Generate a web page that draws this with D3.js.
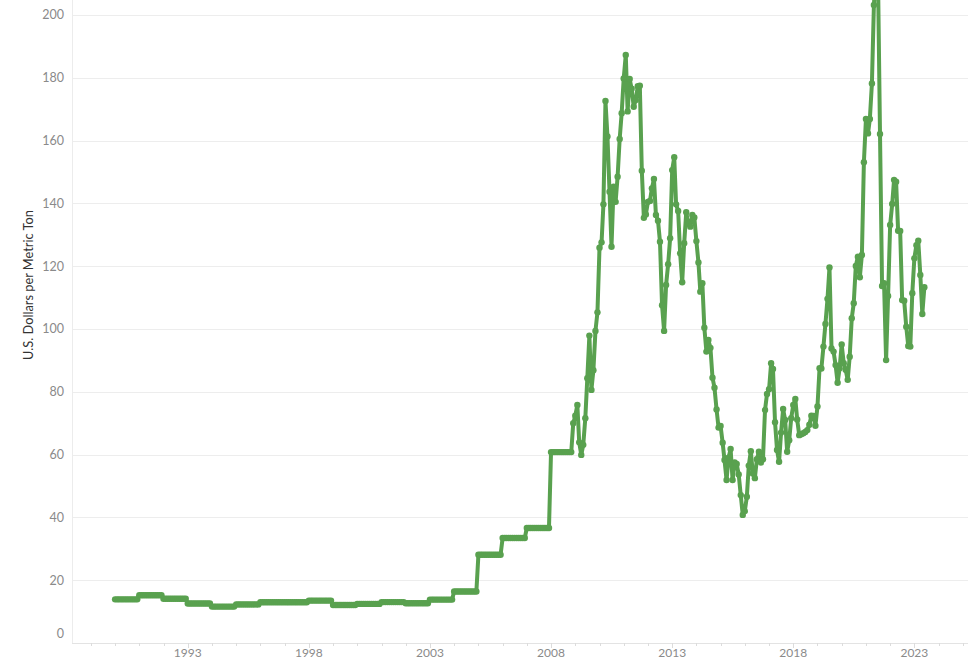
<!DOCTYPE html>
<html>
<head>
<meta charset="utf-8">
<script src="https://cdn.jsdelivr.net/npm/d3@7"></script>
<style>
  html, body { margin: 0; padding: 0; background: #fff; }
  svg { display: block; }
  text { font-family: Lato, "Open Sans", sans-serif; }
</style>
</head>
<body>
<svg id="chart" width="980" height="660"></svg>
<script>
// ---- DATA ----
// Annual contract prices, repeated for each month of the year (US$ per metric ton)
const annualYears  = [1990,1991,1992,1993,1994,1995,1996,1997,1998,1999,2000,2001,2002,2003,2004,2005,2006,2007,2008];
const annualPrices = [13.9,15.2,14.1,12.6,11.6,12.3,13.0,13.0,13.5,12.1,12.45,13.03,12.68,13.82,16.39,28.11,33.45,36.63,60.80];

// Monthly spot prices starting December 2008
const monthlyStart = [2008, 12];
const monthlyPrices = [
  70.0,                                                              // 2008-12
  72.4, 75.8, 63.9, 59.9, 63.1, 71.6, 84.3, 97.9, 80.6, 86.9, 99.4, 105.3,   // 2009
  125.9,127.6,139.7,172.6,161.3,143.7,126.2,145.3,140.5,148.5,160.5,168.7,   // 2010
  179.8,187.3,169.3,179.6,176.5,170.8,172.9,177.3,177.5,150.4,135.4,136.5,   // 2011
  140.5,140.8,144.8,147.8,136.3,134.5,127.8,107.6, 99.4,114.0,120.6,128.9,   // 2012
  150.6,154.7,139.7,137.6,124.1,114.9,127.3,137.2,133.5,132.6,136.3,135.5,   // 2013
  128.0,121.2,111.9,114.6,100.4, 92.8, 96.5, 94.0, 84.5, 81.3, 74.4, 68.6,   // 2014
  69.1, 63.8, 58.3, 51.9, 59.0, 61.8, 51.9, 57.5, 57.0, 53.7, 47.1, 40.8,    // 2015
  42.0, 46.6, 56.5, 61.1, 54.0, 52.5, 58.5, 60.9, 57.5, 58.5, 74.2, 79.3,    // 2016
  80.8, 89.1, 87.3, 70.3, 61.5, 57.7, 67.0, 74.5, 71.0, 60.9, 64.6, 71.6,    // 2017
  75.8, 77.7, 71.2, 66.2, 66.5, 66.8, 67.2, 67.8, 69.5, 72.4, 72.3, 69.2,    // 2018
  75.3, 87.5, 87.4, 94.4,101.6,109.6,119.6, 93.8, 92.8, 88.5, 82.9, 87.5,    // 2019
  95.1, 89.1, 87.0, 83.8, 91.2,103.4,108.2,120.1,123.0,116.5,123.6,153.1,    // 2020
  166.9,162.3,166.9,178.2,203.2,214.4,213.5,162.1,113.7,114.6, 90.1,110.5,   // 2021
  133.1,139.8,147.5,146.9,131.3,131.2,109.2,109.0,100.7, 94.6, 94.4,111.4,   // 2022
  122.5,126.7,128.1,117.2,104.8,113.3                                        // 2023
];

const yTicks = [0,20,40,60,80,100,120,140,160,180,200];
const xTickYears = [1993,1998,2003,2008,2013,2018,2023];
const yTitle = "U.S. Dollars per Metric Ton";

// ---- BUILD SERIES ----
const series = [];
const startKey = monthlyStart[0] * 12 + (monthlyStart[1] - 1);
annualYears.forEach((yr, i) => {
  for (let m = 0; m < 12; m++) {
    if (yr * 12 + m < startKey) series.push({ date: new Date(yr, m, 1), value: annualPrices[i] });
  }
});
monthlyPrices.forEach((v, i) => {
  const k = startKey + i;
  series.push({ date: new Date(Math.floor(k / 12), k % 12, 1), value: v });
});

// ---- LAYOUT ----
const svg = d3.select("#chart");
const left = 72, right = 968, bottom = 643;

const x = d3.scaleTime()
  .domain([new Date(1988, 2, 22), new Date(2025, 2, 20)])
  .range([left, right]);
const y = d3.scaleLinear().domain([0, 200]).range([bottom, 15]);

// gridlines
svg.append("g").selectAll("line").data(yTicks).join("line")
  .attr("x1", left).attr("x2", right)
  .attr("y1", d => Math.round(y(d)) + 0.5).attr("y2", d => Math.round(y(d)) + 0.5)
  .attr("stroke", "#ededed").attr("stroke-width", 1);

// y axis line
svg.append("line").attr("x1", left + 0.5).attr("x2", left + 0.5)
  .attr("y1", 0).attr("y2", bottom)
  .attr("stroke", "#ececec");

// x axis baseline + ticks
svg.append("line").attr("x1", left).attr("x2", right)
  .attr("y1", bottom + 0.5).attr("y2", bottom + 0.5).attr("stroke", "#e3e3e3");

const minorYears = d3.range(1989, 2026);
svg.append("g").selectAll("line").data(minorYears).join("line")
  .attr("x1", d => Math.round(x(new Date(d, 0, 1))) + 0.5)
  .attr("x2", d => Math.round(x(new Date(d, 0, 1))) + 0.5)
  .attr("y1", bottom).attr("y2", d => xTickYears.includes(d) ? bottom + 5 : bottom + 3)
  .attr("stroke", "#dcdcdc");

// x labels
svg.append("g").selectAll("text").data(xTickYears).join("text")
  .attr("x", d => x(new Date(d, 0, 1)))
  .attr("y", 656.5)
  .attr("text-anchor", "middle")
  .attr("font-size", 12)
  .attr("fill", "#8a8a8a")
  .text(d => d);

// y labels
svg.append("g").selectAll("text").data(yTicks).join("text")
  .attr("x", 64)
  .attr("y", d => d === 0 ? y(d) - 9 : y(d))
  .attr("dy", "0.35em")
  .attr("text-anchor", "end")
  .attr("font-size", 12.5)
  .attr("fill", "#8a8a8a")
  .text(d => d);

// y title
svg.append("text")
  .attr("transform", `translate(33,285) rotate(-90)`)
  .attr("text-anchor", "middle")
  .attr("font-size", 12.8)
  .attr("fill", "#333")
  .text(yTitle);

// line
const green = "#59a14f";
const line = d3.line().x(d => x(d.date)).y(d => y(d.value));
svg.append("path").datum(series)
  .attr("d", line)
  .attr("fill", "none")
  .attr("stroke", green)
  .attr("stroke-width", 4)
  .attr("stroke-linejoin", "round");

svg.append("g").selectAll("circle").data(series).join("circle")
  .attr("cx", d => x(d.date))
  .attr("cy", d => y(d.value))
  .attr("r", 3.2)
  .attr("fill", green);
</script>
</body>
</html>
